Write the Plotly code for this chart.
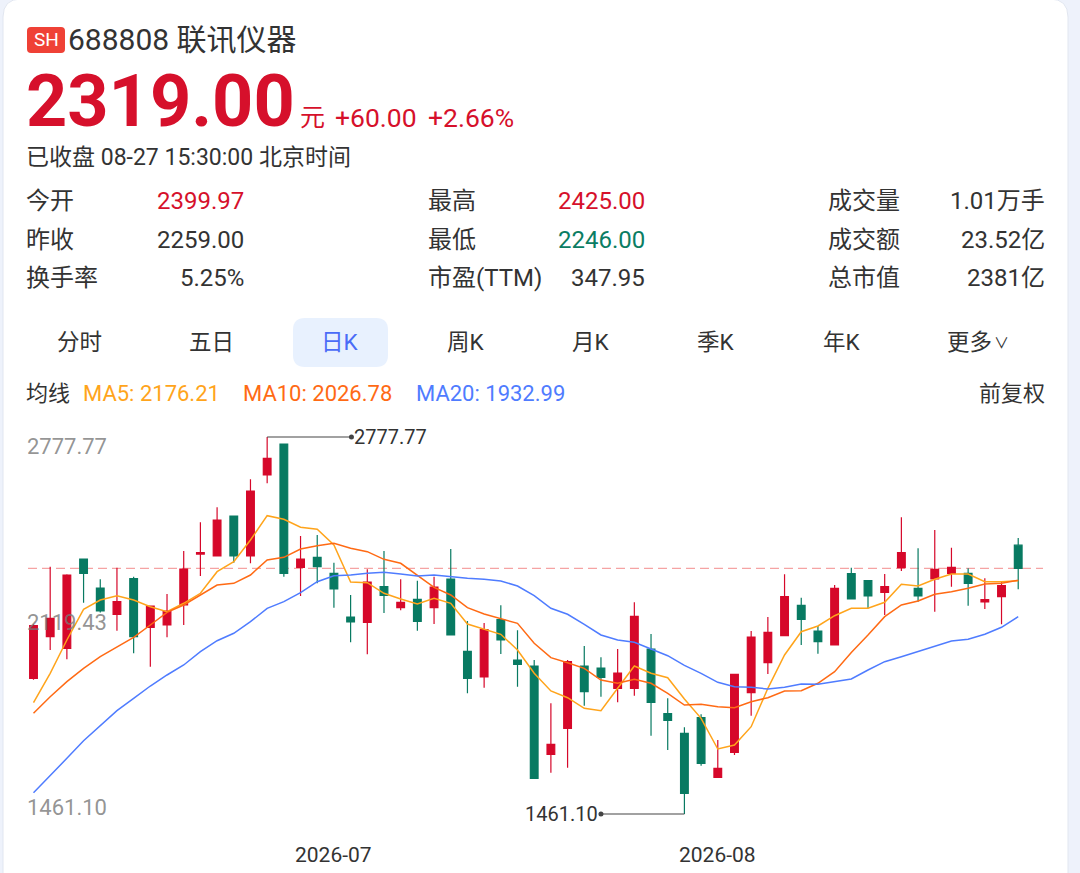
import plotly.graph_objects as go

W, H = 1080, 873
FONT = "Roboto, 'Noto Sans CJK SC', sans-serif"
RED = "#d6102b"
GREEN = "#0b7d63"
DARK = "#333333"

# ---- data ----
dates = [
    "2026-06-04", "2026-06-05", "2026-06-08", "2026-06-09", "2026-06-10", "2026-06-11",
    "2026-06-12", "2026-06-15", "2026-06-16", "2026-06-17", "2026-06-18", "2026-06-22",
    "2026-06-23", "2026-06-24", "2026-06-25", "2026-06-26", "2026-06-29", "2026-06-30",
    "2026-07-01", "2026-07-02", "2026-07-03", "2026-07-06", "2026-07-07", "2026-07-08",
    "2026-07-09", "2026-07-10", "2026-07-13", "2026-07-14", "2026-07-15", "2026-07-16",
    "2026-07-17", "2026-07-20", "2026-07-21", "2026-07-22", "2026-07-23", "2026-07-24",
    "2026-07-27", "2026-07-28", "2026-07-29", "2026-07-30", "2026-07-31", "2026-08-03",
    "2026-08-04", "2026-08-05", "2026-08-06", "2026-08-07", "2026-08-10", "2026-08-11",
    "2026-08-12", "2026-08-13", "2026-08-14", "2026-08-17", "2026-08-18", "2026-08-19",
    "2026-08-20", "2026-08-21", "2026-08-24", "2026-08-25", "2026-08-26", "2026-08-27",
]
opens = [
    1935.0, 2080.4, 2039.8, 2351.7, 2250.4, 2158.6, 2282.9, 2113.1, 2121.2, 2191.0,
    2369.0, 2362.2, 2501.9, 2362.2, 2645.1, 2753.3, 2322.7, 2357.6, 2301.7, 2149.1,
    2130.6, 2255.0, 2181.6, 2210.9, 2181.6, 2281.8, 2029.3, 1939.6, 2139.7, 1998.9,
    1978.0, 1669.6, 1760.4, 1978.0, 1971.0, 1900.1, 1900.1, 2037.4, 1811.4, 1743.0,
    1797.5, 1589.3, 1676.6, 1884.8, 1989.5, 2083.8, 2190.0, 2100.2, 2051.3, 2300.4,
    2275.9, 2235.4, 2321.3, 2249.4, 2281.8, 2301.7, 2301.7, 2201.5, 2220.0, 2399.97,
]
highs = [
    2124.0, 2324.8, 2298.2, 2351.7, 2280.8, 2321.3, 2289.9, 2187.5, 2229.5, 2379.6,
    2479.9, 2532.3, 2501.9, 2630.1, 2777.77, 2753.3, 2432.0, 2435.5, 2338.8, 2226.0,
    2315.7, 2379.6, 2280.8, 2275.9, 2289.9, 2386.6, 2135.2, 2128.2, 2190.0, 2102.7,
    1998.9, 1847.7, 1998.9, 2047.8, 2008.4, 2037.4, 2200.5, 2089.8, 1865.2, 1763.9,
    1809.3, 1719.5, 1949.0, 2100.2, 2149.1, 2298.2, 2216.6, 2117.7, 2260.9, 2321.3,
    2275.9, 2299.3, 2497.3, 2389.0, 2453.0, 2391.2, 2319.2, 2284.3, 2274.9, 2425.00,
]
lows = [
    1930.0, 2033.9, 2001.4, 2199.1, 2165.0, 2101.3, 2022.4, 1975.6, 2078.2, 2121.2,
    2292.3, 2362.2, 2338.8, 2336.7, 2616.1, 2289.9, 2222.5, 2266.8, 2181.6, 2060.8,
    2018.9, 2163.1, 2172.5, 2101.3, 2124.7, 2086.3, 1882.7, 1902.2, 2019.9, 1905.7,
    1585.8, 1605.3, 1622.8, 1839.3, 1870.8, 1851.2, 1874.3, 1734.6, 1684.6, 1461.10,
    1629.8, 1589.3, 1667.2, 1804.4, 1950.1, 2083.8, 2051.3, 2021.0, 2051.3, 2212.0,
    2179.5, 2156.1, 2309.8, 2202.6, 2167.6, 2255.0, 2188.6, 2177.1, 2123.6, 2246.00,
]
closes = [
    2119.0, 2144.6, 2295.8, 2301.7, 2170.1, 2202.6, 2080.4, 2187.5, 2170.1, 2316.8,
    2374.0, 2487.9, 2362.2, 2589.2, 2703.4, 2301.7, 2351.7, 2324.8, 2246.9, 2131.7,
    2271.4, 2224.9, 2200.5, 2134.1, 2253.9, 2086.3, 1935.0, 2104.8, 2068.8, 1983.9,
    1585.8, 1704.6, 1993.0, 1888.2, 1938.5, 1953.5, 2151.6, 1851.2, 1788.4, 1533.4,
    1638.2, 1620.7, 1949.0, 2079.3, 2095.7, 2220.0, 2141.1, 2062.9, 2249.4, 2212.0,
    2222.5, 2255.0, 2373.7, 2222.5, 2315.7, 2322.7, 2266.8, 2209.5, 2259.00, 2319.00,
]
ma5 = [
    1849.8, 1952.5, 2068.8, 2176.0, 2208.5, 2223.5, 2208.5, 2185.1, 2167.6, 2197.0,
    2231.9, 2307.4, 2342.3, 2418.0, 2502.9, 2490.3, 2462.4, 2455.4, 2400.6, 2271.4,
    2268.9, 2231.9, 2212.0, 2194.5, 2214.4, 2197.0, 2124.7, 2107.2, 2088.7, 2033.9,
    1952.5, 1890.7, 1867.3, 1830.3, 1821.9, 1900.1, 1978.0, 1952.5, 1937.1, 1862.7,
    1795.3, 1688.1, 1702.1, 1766.0, 1900.1, 2016.4, 2097.8, 2117.7, 2153.7, 2179.5,
    2179.5, 2200.5, 2263.3, 2257.4, 2280.8, 2299.3, 2299.3, 2272.4, 2272.4, 2275.9,
]
ma10 = [
    1812.8, 1870.8, 1923.2, 1969.9, 2010.5, 2043.3, 2078.2, 2121.2, 2165.5, 2191.0,
    2226.0, 2260.9, 2266.8, 2295.8, 2348.2, 2357.6, 2386.6, 2398.1, 2406.5, 2389.0,
    2377.2, 2350.6, 2336.7, 2293.4, 2252.8, 2226.0, 2181.6, 2159.6, 2144.6, 2127.1,
    2057.3, 2007.0, 1989.5, 1969.9, 1929.1, 1917.6, 1931.6, 1917.6, 1882.7, 1841.8,
    1844.2, 1835.8, 1832.4, 1853.3, 1867.3, 1890.7, 1891.7, 1917.6, 1958.1, 2025.2,
    2086.3, 2150.2, 2191.0, 2205.0, 2228.4, 2237.5, 2249.4, 2264.4, 2266.8, 2277.3,
]
ma20 = [
    1535.5, 1597.3, 1655.6, 1717.1, 1768.4, 1821.9, 1865.2, 1908.1, 1946.6, 1981.5,
    2027.9, 2066.4, 2092.2, 2132.7, 2179.5, 2202.6, 2234.0, 2272.4, 2293.4, 2295.8,
    2301.7, 2305.3, 2299.3, 2292.3, 2295.8, 2289.9, 2284.3, 2280.8, 2274.9, 2257.4,
    2223.5, 2179.5, 2158.6, 2123.6, 2086.3, 2068.8, 2060.8, 2037.4, 2014.0, 1980.4,
    1952.5, 1921.1, 1905.7, 1903.6, 1897.7, 1903.6, 1915.1, 1914.1, 1923.2, 1932.6,
    1964.0, 1993.0, 2010.5, 2027.9, 2047.8, 2065.3, 2071.2, 2088.7, 2113.1, 2150.2,
]
month_ticks = ["2026-07-01", "2026-08-03"]
month_labels = ["2026-07", "2026-08"]
axis_values = [2777.77, 2119.43, 1461.10]

stats = [
    [("今开", "2399.97", RED), ("最高", "2425.00", RED), ("成交量", "1.01万手", DARK)],
    [("昨收", "2259.00", DARK), ("最低", "2246.00", GREEN), ("成交额", "23.52亿", DARK)],
    [("换手率", "5.25%", DARK), ("市盈(TTM)", "347.95", DARK), ("总市值", "2381亿", DARK)],
]
tabs = ["分时", "五日", "日K", "周K", "月K", "季K", "年K"]
ma_legend = [("MA5: 2176.21", "#ffa41b"), ("MA10: 2026.78", "#ff6a14"), ("MA20: 1932.99", "#4f7cff")]


def px(x):
    return x / W


def py(y):
    return 1 - y / H


def rounded_rect(x0, y0, x1, y1, r):
    rx, ry = r / W, r / H
    a, b, c, d = px(x0), py(y0), px(x1), py(y1)
    return (f"M{a + rx},{b} L{c - rx},{b} Q{c},{b} {c},{b - ry} L{c},{d + ry} "
            f"Q{c},{d} {c - rx},{d} L{a + rx},{d} Q{a},{d} {a},{d + ry} "
            f"L{a},{b - ry} Q{a},{b} {a + rx},{b} Z")


annotations = []


def label(x, y, text, size, color=DARK, anchor="left", bold=False, box_h=None):
    if bold:
        text = f"<b>{text}</b>"
    # plotly pads text boxes by a few pixels; pull the ink onto the given edge
    shift = {"left": -3, "right": 3, "center": 0}[anchor]
    annotations.append(dict(
        x=px(x), y=py(y), xref="paper", yref="paper", text=text, showarrow=False,
        xanchor=anchor, yanchor="middle", xshift=shift, height=box_h, borderpad=0,
        font=dict(size=size, color=color, family=FONT),
    ))


fig = go.Figure()

fig.add_trace(go.Candlestick(
    x=dates, open=opens, high=highs, low=lows, close=closes,
    increasing=dict(line=dict(color="#d6082a", width=1.2), fillcolor="#d6082a"),
    decreasing=dict(line=dict(color="#087a62", width=1.2), fillcolor="#087a62"),
    whiskerwidth=0, showlegend=False,
))
for vals, color in zip([ma5, ma10, ma20], ["#ffa41b", "#ff6a14", "#4f7cff"]):
    fig.add_trace(go.Scatter(x=dates, y=vals, mode="lines", line=dict(color=color, width=1.5),
                             showlegend=False, hoverinfo="skip"))

# axis geometry (pixels of the photographed page)
plot_left, plot_right, plot_top, plot_bottom = 28, 1043, 430, 820
first_x, step_x = 33.5, 16.69
hi_px, lo_px = 437, 814
hi, lo = max(highs), min(lows)
per_px = (hi - lo) / (lo_px - hi_px)
y_range = [lo - per_px * (plot_bottom - lo_px), hi + per_px * (hi_px - plot_top)]
x0 = -(first_x - plot_left) / step_x
x_range = [x0, x0 + (plot_right - plot_left) / step_x]

shapes = [
    dict(type="rect", xref="paper", yref="paper", x0=0, x1=1, y0=0, y1=1,
         fillcolor="#eef2fb", line=dict(width=0), layer="below"),
    dict(type="path", xref="paper", yref="paper", path=rounded_rect(3, -1, 1068, 920, 18),
         fillcolor="white", line=dict(color="#e1e6f0", width=1), layer="below"),
    dict(type="path", xref="paper", yref="paper", path=rounded_rect(27, 27, 65, 53, 4),
         fillcolor="#ef4136", line=dict(width=0), layer="below"),
    dict(type="path", xref="paper", yref="paper", path=rounded_rect(293, 318, 388, 367, 12),
         fillcolor="#e8f1fe", line=dict(width=0), layer="below"),
    dict(type="line", xref="x domain", yref="y", x0=0, x1=1, y0=closes[-1], y1=closes[-1],
         line=dict(color="#f5a3a3", width=1.3, dash="9px,5px"), layer="below"),
]

# extreme markers
i_hi, i_lo = highs.index(hi), lows.index(lo)
for idx, val, dx, side in [(i_hi, hi, 5.05, "left"), (i_lo, lo, -5.0, "right")]:
    end = idx + dx
    shapes.append(dict(type="line", xref="x", yref="y", x0=idx, x1=end, y0=val, y1=val,
                       line=dict(color="#444444", width=1.2)))
    shapes.append(dict(type="circle", xref="x", yref="y", xsizemode="pixel", ysizemode="pixel",
                       xanchor=end, yanchor=val, x0=-2.5, x1=2.5, y0=-2.5, y1=2.5,
                       fillcolor="#444444", line=dict(width=0)))
    annotations.append(dict(x=end, y=val, xref="x", yref="y", text=f"{val:.2f}", showarrow=False,
                            xanchor=side, yanchor="middle", xshift=1 if side == "left" else -1,
                            font=dict(size=20, color=DARK, family=FONT)))

# price axis labels
for val, anchor, shift in zip(axis_values, ["top", "middle", "bottom"], [5, 3, -8]):
    annotations.append(dict(x=px(28), y=val, xref="paper", yref="y", text=f"{val:.2f}",
                            showarrow=False, xanchor="left", yanchor=anchor, xshift=-3, yshift=shift,
                            font=dict(size=22, color="rgba(120,120,120,0.8)", family=FONT)))

# month labels
for d, t in zip(month_ticks, month_labels):
    annotations.append(dict(x=dates.index(d), y=py(855), xref="x", yref="paper", text=t,
                            showarrow=False, xanchor="center", yanchor="middle",
                            font=dict(size=21, color=DARK, family=FONT)))

# header
label(46, 40, "SH", 19, "white", "center")
label(70, 40, "688808 联讯仪器", 30)
label(28, 101, "2319.00", 72, RED, bold=True, box_h=66)
label(302, 118, "元", 25, RED)
label(337, 118, "+60.00", 26.5, RED)
label(430, 118, "+2.66%", 26.5, RED)
label(28, 157, "已收盘 08-27 15:30:00 北京时间", 23, box_h=26)

for row, y in zip(stats, [201, 240, 278]):
    for (name, value, color), lx, rx in zip(row, [28, 430, 830], [242, 643, 1043]):
        label(lx, y, name, 24)
        label(rx, y, value, 24, color, "right")

for t, cx in zip(tabs, [79, 211, 340, 466, 591, 716, 842]):
    label(cx, 342, t, 22.5, "#4a6cf7" if t == "日K" else DARK, "center")
label(949, 342, "更多", 22.5)
label(996, 343, "∨", 15)

label(28, 394, "均线", 22)
for (t, c), lx in zip(ma_legend, [85, 245, 418]):
    label(lx, 394, t, 22, c)
label(1043, 394, "前复权", 22, anchor="right")

fig.update_layout(
    width=W, height=H, margin=dict(l=0, r=0, t=0, b=0),
    paper_bgcolor="#eef2fb", plot_bgcolor="rgba(0,0,0,0)",
    shapes=shapes, annotations=annotations, boxgap=0.34,
    hovermode=False, dragmode=False,
    xaxis=dict(type="category", domain=[px(plot_left), px(plot_right)], range=x_range,
               showticklabels=False, showgrid=False, zeroline=False, showline=False,
               rangeslider=dict(visible=False), fixedrange=True),
    yaxis=dict(domain=[py(plot_bottom), py(plot_top)], range=y_range, showticklabels=False,
               showgrid=False, zeroline=False, showline=False, fixedrange=True),
)

fig.write_html("out.html", config={"displayModeBar": False},
               post_script="document.body.style.margin='0';document.body.style.overflow='hidden';")
